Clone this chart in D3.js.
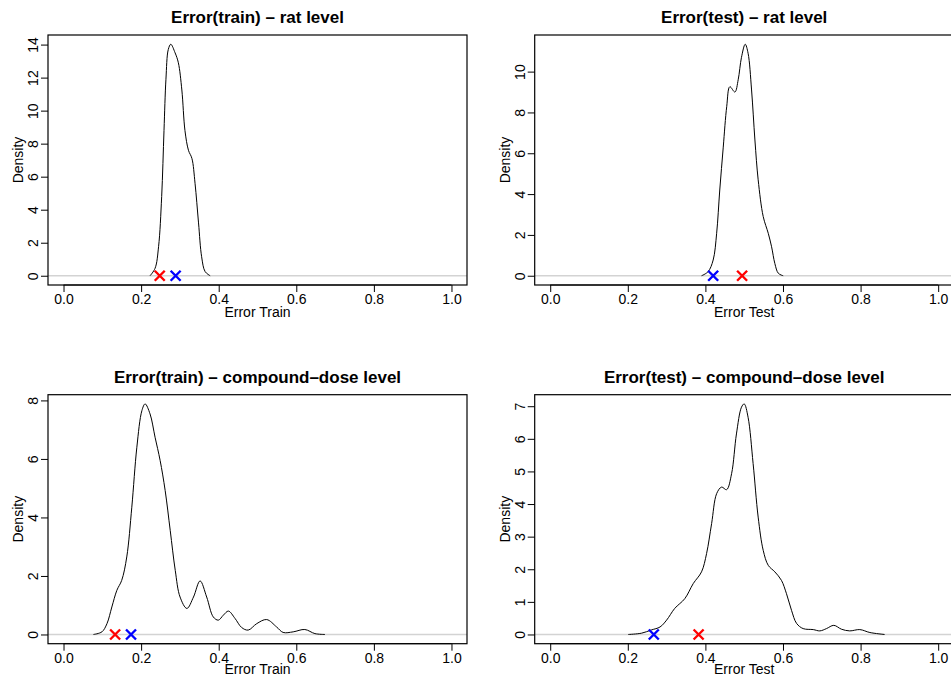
<!DOCTYPE html>
<html>
<head>
<meta charset="utf-8">
<script src="https://cdn.jsdelivr.net/npm/d3@7"></script>
<style>
  html, body { margin: 0; padding: 0; background: #fff; }
  svg { display: block; font-family: "Liberation Sans", Arial, Helvetica, sans-serif; }
</style>
</head>
<body>
<svg id="chart" width="951" height="676"></svg>
<script>
// ---------------- DATA ----------------
const xTicks = [0, 0.2, 0.4, 0.6, 0.8, 1.0];

// Panel 1: Error(train) – rat level
const trainRatX = [0.223, 0.236, 0.245, 0.253, 0.259, 0.264, 0.270, 0.2765, 0.2876, 0.296, 0.305, 0.313, 0.322, 0.331, 0.339, 0.348, 0.356, 0.365, 0.378];
const trainRatY = [0.0, 0.45, 1.76, 4.8, 8.8, 11.9, 13.7, 14.02, 13.5, 12.9, 11.25, 8.8, 7.6, 7.1, 5.6, 3.2, 1.15, 0.25, 0.0];
const trainRatMarks = [0.248, 0.289];
const trainRatYTicks = [0, 2, 4, 6, 8, 10, 12, 14];

// Panel 2: Error(test) – rat level
const testRatX = [0.390, 0.407, 0.420, 0.429, 0.437, 0.446, 0.455, 0.463, 0.476, 0.4845, 0.493, 0.5026, 0.510, 0.519, 0.5276, 0.536, 0.549, 0.562, 0.5706, 0.579, 0.588, 0.6005];
const testRatY = [0.0, 0.2, 0.77, 2.08, 4.2, 6.3, 8.3, 9.26, 9.0, 9.6, 10.7, 11.34, 10.9, 9.1, 6.65, 4.7, 2.9, 2.08, 1.42, 0.6, 0.12, 0.0];
const testRatMarks = [0.4946, 0.420];
const testRatYTicks = [0, 2, 4, 6, 8, 10];

// Panel 3: Error(train) – compound-dose level
const trainCdX = [0.077, 0.099, 0.112, 0.1246, 0.1375, 0.150, 0.163, 0.176, 0.189, 0.202, 0.2103, 0.223, 0.236, 0.249, 0.262, 0.275, 0.288, 0.3004, 0.318, 0.335, 0.352, 0.369, 0.386, 0.399, 0.412, 0.425, 0.442, 0.459, 0.476, 0.498, 0.5237, 0.549, 0.566, 0.592, 0.622, 0.648, 0.674];
const trainCdY = [0.0, 0.09, 0.37, 0.94, 1.51, 1.85, 2.65, 4.35, 6.4, 7.65, 7.88, 7.54, 6.74, 5.95, 4.92, 3.56, 2.19, 1.28, 0.89, 1.28, 1.83, 1.28, 0.6, 0.49, 0.66, 0.8, 0.55, 0.24, 0.15, 0.37, 0.51, 0.26, 0.07, 0.09, 0.17, 0.03, 0.0];
const trainCdMarks = [0.133, 0.174];
const trainCdYTicks = [0, 2, 4, 6, 8];

// Panel 4: Error(test) – compound-dose level
const testCdX = [0.201, 0.2355, 0.261, 0.283, 0.300, 0.321, 0.347, 0.3686, 0.390, 0.403, 0.416, 0.429, 0.4418, 0.4546, 0.4675, 0.480, 0.493, 0.500, 0.510, 0.523, 0.536, 0.549, 0.562, 0.579, 0.596, 0.609, 0.622, 0.635, 0.652, 0.678, 0.695, 0.712, 0.731, 0.751, 0.772, 0.798, 0.824, 0.862];
const testCdY = [0.0, 0.04, 0.14, 0.23, 0.44, 0.8, 1.1, 1.56, 1.92, 2.48, 3.4, 4.32, 4.52, 4.44, 4.93, 6.15, 6.97, 7.07, 6.66, 5.24, 3.6, 2.58, 2.12, 1.92, 1.66, 1.25, 0.74, 0.34, 0.18, 0.15, 0.11, 0.18, 0.28, 0.16, 0.11, 0.15, 0.06, 0.0];
const testCdMarks = [0.3825, 0.267];
const testCdYTicks = [0, 1, 2, 3, 4, 5, 6, 7];

const markColors = ["#ff0000", "#0000ff"];

const panels = [
  { title: "Error(train) \u2013 rat level", xlab: "Error Train", xs: trainRatX, ys: trainRatY, marks: trainRatMarks, yTicks: trainRatYTicks, box: [48, 467, 35, 285] },
  { title: "Error(test) \u2013 rat level", xlab: "Error Test", xs: testRatX, ys: testRatY, marks: testRatMarks, yTicks: testRatYTicks, box: [534.7, 953.7, 35, 285] },
  { title: "Error(train) \u2013 compound\u2013dose level", xlab: "Error Train", xs: trainCdX, ys: trainCdY, marks: trainCdMarks, yTicks: trainCdYTicks, box: [48, 467, 394.7, 643.7] },
  { title: "Error(test) \u2013 compound\u2013dose level", xlab: "Error Test", xs: testCdX, ys: testCdY, marks: testCdMarks, yTicks: testCdYTicks, box: [534.7, 953.7, 394.7, 643.7] }
];

// ---------------- DRAW ----------------
const svg = d3.select("#chart");
const tickLen = 7;

panels.forEach((p, i) => {
  const [L, R, T, B] = p.box;
  const ymax = d3.max(p.ys);
  const x = d3.scaleLinear().domain([-0.04, 1.04]).range([L, R]);
  const y = d3.scaleLinear().domain([-0.04 * ymax, 1.04 * ymax]).range([B, T]);
  const g = svg.append("g");

  const clipId = "clip" + i;
  svg.append("clipPath").attr("id", clipId)
    .append("rect").attr("x", L).attr("y", T).attr("width", R - L).attr("height", B - T);

  // zero reference line
  g.append("line")
    .attr("clip-path", `url(#${clipId})`)
    .attr("x1", L).attr("x2", R)
    .attr("y1", y(0)).attr("y2", y(0))
    .attr("stroke", "#d3d3d3").attr("stroke-width", 1.6);

  // density curve
  const pts = p.xs.map((v, k) => [v, p.ys[k]]);
  g.append("path")
    .datum(pts)
    .attr("clip-path", `url(#${clipId})`)
    .attr("d", d3.line().x(d => x(d[0])).y(d => y(d[1])).curve(d3.curveCatmullRom.alpha(0.5)))
    .attr("fill", "none").attr("stroke", "#000").attr("stroke-width", 1);

  // X markers
  p.marks.forEach((m, k) => {
    const cx = x(m), cy = y(0), s = 5;
    g.append("path")
      .attr("d", `M${cx - s},${cy - s}L${cx + s},${cy + s}M${cx - s},${cy + s}L${cx + s},${cy - s}`)
      .attr("stroke", markColors[k]).attr("stroke-width", 2.4).attr("fill", "none");
  });

  // box
  g.append("rect").attr("x", L).attr("y", T).attr("width", R - L).attr("height", B - T)
    .attr("fill", "none").attr("stroke", "#000").attr("stroke-width", 1.2);

  // x axis
  const xa = g.append("g").attr("transform", `translate(0,${B})`)
    .call(d3.axisBottom(x).tickValues(xTicks).tickFormat(d3.format(".1f")).tickSize(tickLen).tickSizeOuter(0).tickPadding(2));
  xa.select(".domain").remove();
  xa.append("line").attr("x1", x(xTicks[0])).attr("x2", x(xTicks[xTicks.length - 1]))
    .attr("stroke", "#000").attr("stroke-width", 1);
  xa.selectAll("text").attr("font-size", 14).attr("fill", "#000").attr("font-family", "Liberation Sans, Arial, sans-serif");
  xa.selectAll("line").attr("stroke", "#000");

  // y axis
  const ya = g.append("g").attr("transform", `translate(${L},0)`)
    .call(d3.axisLeft(y).tickValues(p.yTicks).tickFormat(d3.format("d")).tickSize(tickLen).tickSizeOuter(0));
  ya.select(".domain").remove();
  ya.selectAll("text")
    .attr("font-size", 14).attr("fill", "#000").attr("font-family", "Liberation Sans, Arial, sans-serif")
    .attr("text-anchor", "middle")
    .attr("x", 0).attr("y", -10).attr("dy", 0)
    .attr("transform", "rotate(-90)");
  ya.selectAll("line").attr("stroke", "#000");

  // title
  svg.append("text")
    .attr("x", (L + R) / 2).attr("y", T - 12)
    .attr("text-anchor", "middle").attr("font-size", 17).attr("font-weight", "bold")
    .text(p.title);

  // x label
  svg.append("text")
    .attr("x", (L + R) / 2).attr("y", Math.min(B + 32, 674))
    .attr("text-anchor", "middle").attr("font-size", 14)
    .text(p.xlab);

  // y label
  svg.append("text")
    .attr("transform", `translate(${L - 25},${(T + B) / 2}) rotate(-90)`)
    .attr("text-anchor", "middle").attr("font-size", 14)
    .text("Density");
});
</script>
</body>
</html>
